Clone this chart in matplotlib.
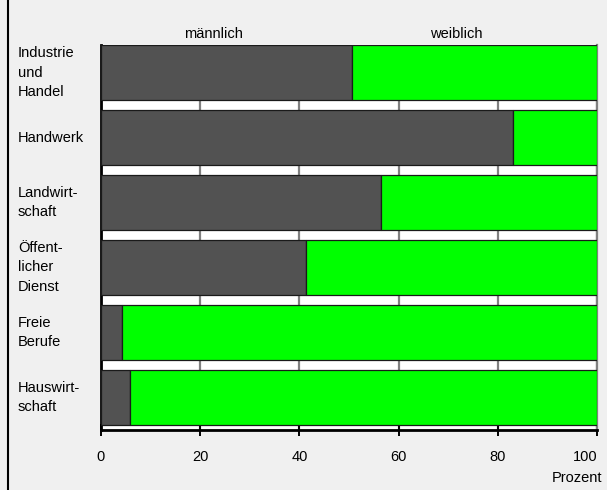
import numpy as np
import matplotlib as mpl
mpl.use("agg")
import matplotlib.pyplot as plt
from matplotlib.lines import Line2D

plt.rcParams['font.family'] = ['Liberation Sans', 'DejaVu Sans']

# Anteile in Prozent je Ausbildungsbereich
bereiche = ["Industrie\nund\nHandel", "Handwerk", "Landwirt-\nschaft",
            "Öffent-\nlicher\nDienst", "Freie\nBerufe", "Hauswirt-\nschaft"]
maennlich = [50.7, 83.1, 56.4, 41.4, 4.3, 5.8]
weiblich = [100 - m for m in maennlich]
xticks = [0, 20, 40, 60, 80, 100]

fig = plt.figure(figsize=(6.07, 4.90), dpi=100)
fig.patch.set_facecolor('#f0f0f0')
ax = fig.add_axes([101/607, 1-430/490, 496/607, 385/490])
ax.set_facecolor('white')

y = np.arange(len(bereiche))
h = 0.855
ax.barh(y, maennlich, height=h, color='#525252', edgecolor='#1a1a1a', lw=0.9, zorder=3)
ax.barh(y, weiblich, left=maennlich, height=h, color='#00ff00', edgecolor='#1a1a1a', lw=0.9, zorder=3)

ax.set_xlim(0, 100)
ax.set_ylim(5 + h/2 + 0.077, -h/2)
ax.set_xticks(xticks)
ax.set_xticklabels([str(t) for t in xticks], fontsize=10.5)
ax.get_xticklabels()[-1].set_horizontalalignment('right')
ax.get_xticklabels()[-1].set_x(100.8)
ax.set_yticks([])
ax.grid(axis='x', color='#808080', lw=1.6, zorder=1)
ax.set_axisbelow(True)
ax.tick_params(axis='x', direction='inout', length=9, width=1.4, pad=10)

ax.spines['top'].set_visible(False)
ax.spines['right'].set_color('#808080')
ax.spines['right'].set_linewidth(1.6)
ax.spines['left'].set_linewidth(2)
ax.spines['bottom'].set_linewidth(2)

# Bereichsnamen links
lbl_tr = mpl.transforms.blended_transform_factory(fig.transFigure, ax.transData)
for i, name in enumerate(bereiche):
    fig.text(18/607, i, name, transform=lbl_tr, fontsize=10.5,
             ha='left', va='center', linespacing=1.5)

ax.text(22.6, -h/2 - 0.17, "männlich", fontsize=10.5, ha='center', va='center')
ax.text(71.6, -h/2 - 0.17, "weiblich", fontsize=10.5, ha='center', va='center')
fig.text(602/607, 1-478/490, "Prozent", fontsize=10.5, ha='right', va='center')

fig.add_artist(Line2D([7.5/607, 7.5/607], [0, 1], color='black', lw=1.5, transform=fig.transFigure))

plt.savefig("out.png", dpi=100, facecolor=fig.get_facecolor())
